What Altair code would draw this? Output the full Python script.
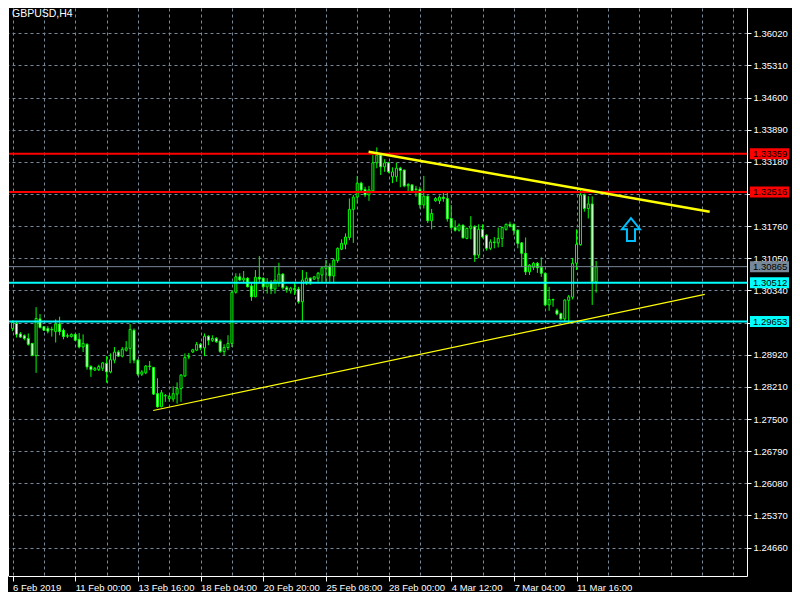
import altair as alt
import pandas as pd

SYMBOL = "GBPUSD,H4"

opens = [
    1.2950, 1.2961, 1.2938, 1.2934, 1.2928, 1.2917, 1.2890, 1.2971, 1.2954, 1.2950,
    1.2948, 1.2943, 1.2960, 1.2946, 1.2934, 1.2932, 1.2937, 1.2926, 1.2909, 1.2915,
    1.2866, 1.2858, 1.2859, 1.2862, 1.2873, 1.2854, 1.2880, 1.2898, 1.2889, 1.2902,
    1.2906, 1.2946, 1.2880, 1.2849, 1.2852, 1.2867, 1.2864, 1.2806, 1.2777, 1.2801,
    1.2795, 1.2794, 1.2805, 1.2817, 1.2845, 1.2887, 1.2898, 1.2902, 1.2915, 1.2907,
    1.2933, 1.2924, 1.2928, 1.2922, 1.2899, 1.2908, 1.2917, 1.3030, 1.3064, 1.3057,
    1.3061, 1.3044, 1.3020, 1.3063, 1.3061, 1.3042, 1.3051, 1.3037, 1.3050, 1.3070,
    1.3040, 1.3033, 1.3038, 1.3037, 1.3009, 1.3053, 1.3061, 1.3059, 1.3061, 1.3068,
    1.3083, 1.3088, 1.3066, 1.3100, 1.3125, 1.3136, 1.3151, 1.3213, 1.3240, 1.3271,
    1.3257, 1.3245, 1.3254, 1.3316, 1.3333, 1.3307, 1.3316, 1.3285, 1.3285, 1.3304,
    1.3300, 1.3265, 1.3267, 1.3257, 1.3257, 1.3223, 1.3242, 1.3188, 1.3232, 1.3232,
    1.3240, 1.3237, 1.3193, 1.3173, 1.3167, 1.3178, 1.3149, 1.3171, 1.3175, 1.3112,
    1.3169, 1.3156, 1.3127, 1.3141, 1.3139, 1.3149, 1.3169, 1.3180, 1.3180, 1.3167,
    1.3139, 1.3116, 1.3075, 1.3085, 1.3094, 1.3085, 1.3072, 1.3002, 1.3014, 1.2990,
    1.2983, 1.2971, 1.3012, 1.3019, 1.3094, 1.3135, 1.3245, 1.3215, 1.3225, 1.3053,
]
highs = [
    1.2968, 1.2965, 1.2942, 1.2937, 1.2939, 1.2918, 1.2997, 1.2982, 1.2955, 1.2955,
    1.2954, 1.2970, 1.2976, 1.2950, 1.2939, 1.2939, 1.2939, 1.2940, 1.2937, 1.2917,
    1.2869, 1.2865, 1.2870, 1.2876, 1.2889, 1.2895, 1.2909, 1.2902, 1.2909, 1.2922,
    1.2960, 1.2950, 1.2882, 1.2858, 1.2869, 1.2878, 1.2865, 1.2840, 1.2814, 1.2805,
    1.2803, 1.2822, 1.2831, 1.2849, 1.2895, 1.2896, 1.2905, 1.2920, 1.2918, 1.2939,
    1.2935, 1.2935, 1.2931, 1.2926, 1.2915, 1.2935, 1.3035, 1.3072, 1.3072, 1.3077,
    1.3063, 1.3050, 1.3079, 1.3110, 1.3063, 1.3061, 1.3057, 1.3088, 1.3095, 1.3072,
    1.3044, 1.3042, 1.3050, 1.3042, 1.3079, 1.3075, 1.3063, 1.3066, 1.3075, 1.3086,
    1.3101, 1.3094, 1.3105, 1.3129, 1.3147, 1.3160, 1.3237, 1.3245, 1.3287, 1.3274,
    1.3263, 1.3265, 1.3333, 1.3350, 1.3337, 1.3324, 1.3318, 1.3306, 1.3316, 1.3307,
    1.3301, 1.3271, 1.3269, 1.3265, 1.3263, 1.3287, 1.3244, 1.3214, 1.3240, 1.3244,
    1.3250, 1.3250, 1.3223, 1.3189, 1.3182, 1.3180, 1.3173, 1.3198, 1.3178, 1.3180,
    1.3180, 1.3158, 1.3147, 1.3152, 1.3173, 1.3175, 1.3182, 1.3186, 1.3182, 1.3169,
    1.3141, 1.3151, 1.3092, 1.3097, 1.3097, 1.3107, 1.3073, 1.3042, 1.3016, 1.2994,
    1.2985, 1.3014, 1.3024, 1.3105, 1.3169, 1.3260, 1.3248, 1.3242, 1.3242, 1.3099,
]
lows = [
    1.2944, 1.2930, 1.2929, 1.2924, 1.2912, 1.2889, 1.2852, 1.2950, 1.2945, 1.2939,
    1.2932, 1.2919, 1.2935, 1.2926, 1.2929, 1.2930, 1.2923, 1.2906, 1.2898, 1.2859,
    1.2843, 1.2856, 1.2856, 1.2856, 1.2830, 1.2851, 1.2873, 1.2887, 1.2886, 1.2899,
    1.2873, 1.2873, 1.2845, 1.2845, 1.2849, 1.2858, 1.2803, 1.2775, 1.2776, 1.2788,
    1.2788, 1.2788, 1.2784, 1.2788, 1.2843, 1.2882, 1.2896, 1.2900, 1.2902, 1.2889,
    1.2913, 1.2920, 1.2918, 1.2896, 1.2891, 1.2902, 1.2909, 1.3027, 1.3055, 1.3050,
    1.3041, 1.3011, 1.3019, 1.3050, 1.3035, 1.3027, 1.3026, 1.3027, 1.3042, 1.3036,
    1.3029, 1.3027, 1.3024, 1.3005, 1.2965, 1.3046, 1.3046, 1.3057, 1.3053, 1.3053,
    1.3053, 1.3053, 1.3050, 1.3095, 1.3123, 1.3125, 1.3145, 1.3139, 1.3226, 1.3252,
    1.3240, 1.3232, 1.3252, 1.3304, 1.3289, 1.3296, 1.3293, 1.3271, 1.3274, 1.3262,
    1.3262, 1.3252, 1.3252, 1.3241, 1.3215, 1.3215, 1.3183, 1.3169, 1.3230, 1.3225,
    1.3230, 1.3186, 1.3167, 1.3164, 1.3164, 1.3149, 1.3147, 1.3147, 1.3097, 1.3105,
    1.3149, 1.3122, 1.3123, 1.3127, 1.3129, 1.3130, 1.3166, 1.3173, 1.3156, 1.3127,
    1.3086, 1.3068, 1.3068, 1.3079, 1.3073, 1.3064, 1.2999, 1.2989, 1.2998, 1.2979,
    1.2969, 1.2965, 1.2961, 1.3014, 1.3079, 1.3133, 1.3208, 1.3193, 1.3002, 1.3029,
]
closes = [
    1.2963, 1.2937, 1.2931, 1.2928, 1.2915, 1.2890, 1.2972, 1.2952, 1.2946, 1.2944,
    1.2947, 1.2960, 1.2943, 1.2932, 1.2933, 1.2937, 1.2924, 1.2909, 1.2917, 1.2865,
    1.2859, 1.2862, 1.2866, 1.2874, 1.2854, 1.2881, 1.2898, 1.2889, 1.2904, 1.2907,
    1.2948, 1.2880, 1.2849, 1.2854, 1.2867, 1.2866, 1.2805, 1.2777, 1.2808, 1.2802,
    1.2800, 1.2806, 1.2817, 1.2847, 1.2886, 1.2888, 1.2903, 1.2915, 1.2907, 1.2933,
    1.2924, 1.2928, 1.2921, 1.2899, 1.2908, 1.2917, 1.3030, 1.3064, 1.3057, 1.3061,
    1.3042, 1.3020, 1.3063, 1.3059, 1.3042, 1.3051, 1.3037, 1.3057, 1.3070, 1.3040,
    1.3036, 1.3039, 1.3036, 1.3009, 1.3057, 1.3061, 1.3053, 1.3064, 1.3072, 1.3084,
    1.3088, 1.3066, 1.3101, 1.3127, 1.3138, 1.3152, 1.3213, 1.3240, 1.3271, 1.3256,
    1.3245, 1.3256, 1.3316, 1.3333, 1.3307, 1.3316, 1.3296, 1.3296, 1.3304, 1.3299,
    1.3265, 1.3268, 1.3254, 1.3258, 1.3223, 1.3242, 1.3188, 1.3204, 1.3237, 1.3240,
    1.3237, 1.3192, 1.3173, 1.3167, 1.3178, 1.3150, 1.3171, 1.3176, 1.3112, 1.3169,
    1.3152, 1.3127, 1.3141, 1.3140, 1.3149, 1.3173, 1.3180, 1.3176, 1.3166, 1.3138,
    1.3116, 1.3075, 1.3090, 1.3094, 1.3084, 1.3072, 1.3002, 1.3014, 1.3013, 1.2982,
    1.2971, 1.3013, 1.3020, 1.3094, 1.3136, 1.3245, 1.3215, 1.3225, 1.3053, 1.30865,
]

# time-axis labels, one every 16 H4 bars
x_tick_labels = ["6 Feb 2019", "11 Feb 00:00", "13 Feb 16:00", "18 Feb 04:00",
                 "20 Feb 20:00", "25 Feb 08:00", "28 Feb 00:00", "4 Mar 12:00",
                 "7 Mar 04:00", "11 Mar 16:00"]
price_ticks = [1.24660, 1.25370, 1.26080, 1.26790, 1.27500, 1.28210, 1.28920,
               1.29630, 1.30340, 1.31050, 1.31760, 1.32470, 1.33180, 1.33890,
               1.34600, 1.35310, 1.36020]
# price-scale labels fully covered by the level tags in the reference
hidden_price_labels = ["1.29630", "1.32470"]

level_prices = [1.33359, 1.32516, 1.30865, 1.30512, 1.29653]
level_colors = ["#FF0000", "#FF0000", "#778899", "#00FFFF", "#00FFFF"]
level_widths = [2, 2, 1, 2, 2]

resist_bars = [90.9, 178.0]
resist_prices = [1.33403, 1.32077]
support_bars = [35.9, 176.75]
support_prices = [1.27688, 1.30252]

arrow_bar = [157.9]
arrow_price = [1.31686]

W, H = 739, 568
FONT = "Liberation Sans"
GRID = "#778899"
GREEN = "#00FF00"

n = len(opens)
candles = pd.DataFrame({
    "idx": list(range(n)),
    "open": opens, "high": highs, "low": lows, "close": closes,
})
candles["fillc"] = ["#FFFFFF" if c < o else "#000000" for o, c in zip(opens, closes)]

levels = pd.DataFrame({"price": level_prices, "col": level_colors, "w": level_widths})
levels["lab"] = [f"{p:.5f}" for p in level_prices]

resist = pd.DataFrame({"idx": resist_bars, "price": resist_prices})
support = pd.DataFrame({"idx": support_bars, "price": support_prices})
arrow = pd.DataFrame({"idx": arrow_bar, "price": arrow_price})
one = pd.DataFrame({"k": [0]})

xs = alt.Scale(domain=[0.1, 186.25], nice=False, zero=False)
ys = alt.Scale(domain=[1.24032, 1.36579], nice=False, zero=False)

lab_list = "[" + ",".join("'" + s + "'" for s in x_tick_labels) + "]"
major_test = f"datum.value % 16 == 0 && datum.value <= {16 * (len(x_tick_labels) - 1)}"
hidden_test = " || ".join(f"format(datum.value, '.5f') == '{s}'" for s in hidden_price_labels)

x_axis = alt.Axis(
    orient="bottom", values=list(range(0, 185, 8)),
    labelExpr=f"{major_test} ? {lab_list}[datum.value / 16] : ''",
    tickSize=5, tickColor="white", tickWidth=1,
    tickOpacity={"condition": {"test": major_test, "value": 1}, "value": 0},
    domainColor="white", domainWidth=1,
    grid=True, gridColor=GRID, gridDash=[3, 3], gridWidth=1,
    labelColor="white", labelFont=FONT, labelFontSize=9.5,
    labelAlign="left", labelBaseline="top", labelPadding=1,
    labelOverlap=False, labelFlush=False, title=None,
)
y_axis = alt.Axis(
    orient="right", values=price_ticks,
    labelExpr=f"({hidden_test}) ? '' : format(datum.value, '.5f')",
    tickSize=4, tickColor="white", tickWidth=1,
    domainColor="white", domainWidth=1,
    grid=True, gridColor=GRID, gridDash=[3, 3], gridWidth=1,
    labelColor="white", labelFont=FONT, labelFontSize=9.5,
    labelPadding=2, labelBaseline="middle",
    labelOverlap=False, labelFlush=False, title=None,
)


def X(field):
    return alt.X(field, scale=xs, axis=x_axis)


def Y(field):
    return alt.Y(field, scale=ys, axis=y_axis)


wicks = alt.Chart(candles).mark_rule(color=GREEN, strokeWidth=1).encode(
    x=X("idx:Q"), y=Y("low:Q"), y2="high:Q",
)
bodies = alt.Chart(candles).mark_bar(size=2, stroke=GREEN, strokeWidth=1).encode(
    x=X("idx:Q"), y=Y("open:Q"), y2="close:Q",
    fill=alt.Fill("fillc:N", scale=None),
)
level_lines = alt.Chart(levels).mark_rule().encode(
    y=Y("price:Q"),
    color=alt.Color("col:N", scale=None),
    strokeWidth=alt.StrokeWidth("w:Q", scale=None),
)
resist_line = alt.Chart(resist).mark_line(color="#FFFF00", strokeWidth=2.5).encode(
    x=X("idx:Q"), y=Y("price:Q"),
)
support_line = alt.Chart(support).mark_line(color="#FFFF00", strokeWidth=1.2).encode(
    x=X("idx:Q"), y=Y("price:Q"),
)
box_shape = "M-1,-0.282L1,-0.282L1,0.282L-1,0.282Z"
label_boxes = alt.Chart(levels).mark_point(
    shape=box_shape, size=1521, filled=True, opacity=1, strokeWidth=0
).encode(
    x=alt.value(W + 22.5),
    y=Y("price:Q"),
    color=alt.Color("col:N", scale=None),
)
label_text = alt.Chart(levels).mark_text(
    align="left", baseline="middle", font=FONT, fontSize=9.5, color="black"
).encode(
    x=alt.value(W + 6),
    y=Y("price:Q"),
    text="lab:N",
)
arrow_shape = ("M0,-1L0.78,-0.03L0.35,-0.03L0.35,1L-0.35,1L-0.35,-0.03"
               "L-0.78,-0.03Z")
arrow_mark = alt.Chart(arrow).mark_point(
    shape=arrow_shape, size=529, filled=False, opacity=1,
    strokeWidth=2, color="#00BFFF"
).encode(
    x=X("idx:Q"), y=Y("price:Q"),
)
left_border = alt.Chart(one).mark_rule(color="white", strokeWidth=1).encode(
    x=alt.value(0.5), y=alt.value(0), y2=alt.value(H)
)
title = alt.Chart(one).mark_text(
    text=SYMBOL, align="left", baseline="top", font=FONT, fontSize=10.5,
    color="white"
).encode(x=alt.value(4), y=alt.value(1))

chart = alt.layer(
    wicks, bodies, level_lines, resist_line, support_line,
    label_boxes, label_text, arrow_mark, left_border, title,
).properties(
    width=W, height=H,
    autosize=alt.AutoSizeParams(type="none"),
    padding={"left": 0, "top": 0, "right": 45, "bottom": 16},
).configure(background="black").configure_view(strokeWidth=0)

chart.save("out.html", embed_options={"renderer": "svg", "actions": False})
